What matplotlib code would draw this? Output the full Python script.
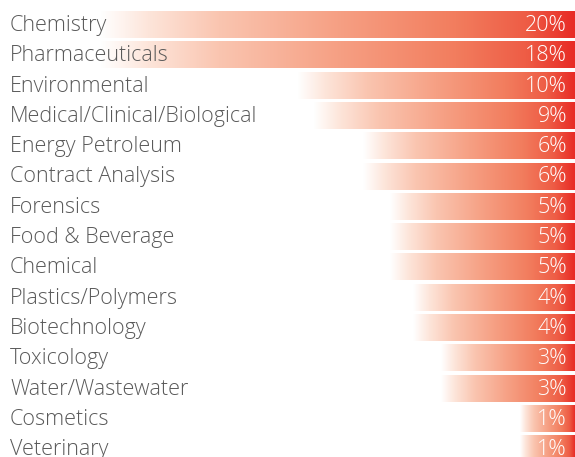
import numpy as np
import matplotlib
matplotlib.use("Agg")
import matplotlib.pyplot as plt
from matplotlib.colors import LinearSegmentedColormap

categories = ["Chemistry", "Pharmaceuticals", "Environmental",
              "Medical/Clinical/Biological", "Energy Petroleum",
              "Contract Analysis", "Forensics", "Food & Beverage",
              "Chemical", "Plastics/Polymers", "Biotechnology",
              "Toxicology", "Water/Wastewater", "Cosmetics", "Veterinary"]
shares = [20, 18, 10, 9, 6, 6, 5, 5, 5, 4, 4, 3, 3, 1, 1]
# bar lengths as drawn in the picture (not proportional to the shares)
bar_len = [475, 475, 278, 262, 212, 212, 185, 185, 185, 162, 162, 134, 134, 55, 55]

plt.rcParams['font.family'] = ['Open Sans', 'DejaVu Sans']

cmap = LinearSegmentedColormap.from_list("fade", [
    (0.0, "#ffffff"), (0.1, "#fde5da"), (0.25, "#fac5b0"),
    (0.5, "#f6a084"), (0.75, "#f27d5e"), (0.9, "#ee5c45"),
    (1.0, "#e82b25")])
grad = np.linspace(0, 1, 256).reshape(1, -1)

fig = plt.figure(figsize=(5.75, 4.57), dpi=100)
ax = fig.add_axes([0, 0, 1, 1])
ax.axis("off")

h = 0.89
for i, (name, val, w) in enumerate(zip(categories, shares, bar_len)):
    ax.imshow(grad, cmap=cmap, aspect="auto", interpolation="bilinear",
              extent=(w, 0, i + h / 2, i - h / 2))
    ax.text(8, i + 0.03, f"{val}%", ha="right", va="center",
            color="white", fontsize=15.5, fontweight="light")
    ax.text(565, i + 0.03, name, ha="left", va="center",
            color="#595959", fontsize=15.5, fontweight="light")

ax.set_xlim(575, 0)
ax.set_ylim(14.27, -0.81)

fig.savefig("out.png", dpi=100)
